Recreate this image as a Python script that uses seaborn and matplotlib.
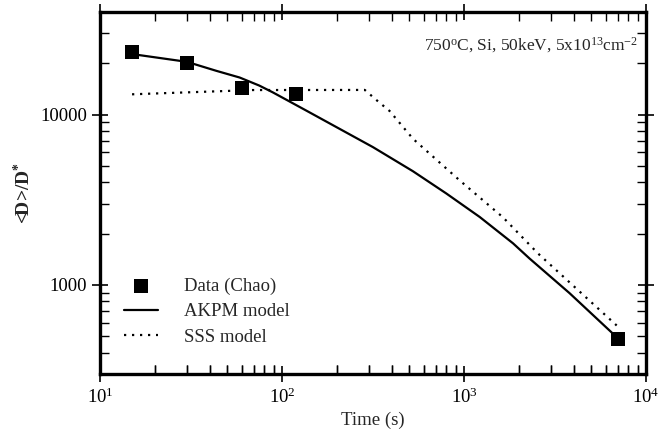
import numpy as np
import pandas as pd
import matplotlib
matplotlib.use("Agg")
import matplotlib.pyplot as plt
import seaborn as sns
from matplotlib.ticker import FixedLocator, FixedFormatter, NullFormatter, NullLocator

# --- values ------------------------------------------------------------------

data_time = [15, 30, 60, 120, 7000]
data_ratio = [23400, 20100, 14300, 13200, 480]

akpm_time = [15, 30, 43.5, 58.5, 75, 89, 136, 207, 316, 524, 800, 1220, 1860, 2290, 3800, 6950]
akpm_ratio = [22650, 20400, 18070, 16500, 14800, 13500, 10550, 8250, 6440, 4650, 3440, 2505,
              1754, 1430, 895, 490]

sss_time = [15, 69, 285, 340, 390, 525, 946, 1640, 2550, 6900]
sss_ratio = [13150, 13930, 13950, 11850, 10500, 7200, 4110, 2490, 1530, 578]

x_major_ticks = [10, 100, 1000, 10000]
y_tick_values = [1000, 10000]
y_tick_labels = ["1000", "10000"]

# --- style -------------------------------------------------------------------

sns.set_style("ticks")
plt.rcParams["font.family"] = ["Liberation Serif", "DejaVu Serif"]
plt.rcParams["mathtext.fontset"] = "custom"
plt.rcParams["mathtext.rm"] = "Liberation Serif"
plt.rcParams["mathtext.it"] = "Liberation Serif:italic"
plt.rcParams["mathtext.bf"] = "Liberation Serif:bold"

fig, ax = plt.subplots(figsize=(6.66, 4.32), dpi=100)
fig.subplots_adjust(left=100 / 666, right=646 / 666, bottom=58 / 432, top=420 / 432)
ax.set_xscale("log")
ax.set_yscale("log")

akpm_df = pd.DataFrame({"time": akpm_time, "ratio": akpm_ratio})
sss_df = pd.DataFrame({"time": sss_time, "ratio": sss_ratio})
data_df = pd.DataFrame({"time": data_time, "ratio": data_ratio})

sns.lineplot(data=akpm_df, x="time", y="ratio", ax=ax, color="black",
             linewidth=1.6, label="AKPM model", sort=False)
sns.lineplot(data=sss_df, x="time", y="ratio", ax=ax, color="black",
             linewidth=1.6, linestyle=(0, (1, 2.6)), label="SSS model", sort=False)
sns.scatterplot(data=data_df, x="time", y="ratio", ax=ax, color="black",
                marker="s", s=110, edgecolor="black", linewidth=0,
                label="Data (Chao)", zorder=5)

ax.set_xlim(10, 10000)
ax.set_ylim(300, 40000)

# minor ticks at 2..9 of every decade
x_minor = [m * 10.0 ** e for e in range(1, 4) for m in range(2, 10)]
y_minor = [m * 10.0 ** e for e in range(2, 5) for m in range(2, 10)]

# bottom minor ticks did not render on the seaborn axes, so a bare twin draws them
# (twiny switches the host's ticks to bottom-only, so it is made before tick_params)
ax_bottom = ax.twiny()
ax_bottom.set_xscale("log")
ax_bottom.set_xlim(ax.get_xlim())
ax_bottom.xaxis.set_major_locator(NullLocator())
ax_bottom.xaxis.set_minor_locator(FixedLocator(x_minor))
ax_bottom.xaxis.set_minor_formatter(NullFormatter())
ax_bottom.tick_params(which="minor", direction="in", length=6.5, width=1.0, colors="black",
                      bottom=True, top=False, labelbottom=False, labeltop=False)
for side in ax_bottom.spines.values():
    side.set_visible(False)

ax.xaxis.set_major_locator(FixedLocator(x_major_ticks))
ax.xaxis.set_minor_locator(FixedLocator(x_minor))
ax.xaxis.set_minor_formatter(NullFormatter())
ax.yaxis.set_major_locator(FixedLocator(y_tick_values))
ax.yaxis.set_major_formatter(FixedFormatter(y_tick_labels))
ax.yaxis.set_minor_locator(FixedLocator(y_minor))
ax.yaxis.set_minor_formatter(NullFormatter())

for side in ax.spines.values():
    side.set_linewidth(2.4)
    side.set_color("black")
ax.tick_params(which="major", direction="inout", length=11, width=1.2,
               top=True, right=True, bottom=True, left=True,
               labeltop=False, labelbottom=True,
               labelsize=13.5, colors="black", pad=4)
ax.tick_params(which="minor", direction="in", length=6.5, width=1.0,
               top=True, right=True, bottom=True, left=True, colors="black")

ax.set_xlabel("Time (s)", fontsize=13.5, labelpad=4)
ax.set_ylabel("<D>/D$^{\\mathbf{*}}$", fontsize=14, fontweight="bold", labelpad=4)

ax.text(0.985, 0.895,
        "750$^{\\mathrm{o}}$C, Si, 50keV, 5x10$^{\\mathrm{13}}$cm$^{\\mathrm{-2}}$",
        transform=ax.transAxes, ha="right", va="baseline", fontsize=12.5)

handles, labels = ax.get_legend_handles_labels()
order = [labels.index(n) for n in ["Data (Chao)", "AKPM model", "SSS model"]]
ax.legend([handles[i] for i in order], [labels[i] for i in order],
          loc="lower left", bbox_to_anchor=(0.02, 0.041), frameon=False,
          fontsize=13.5, handlelength=1.8, handletextpad=1.4,
          labelspacing=0.45, borderpad=0.2)

fig.savefig("out.png", dpi=100)
